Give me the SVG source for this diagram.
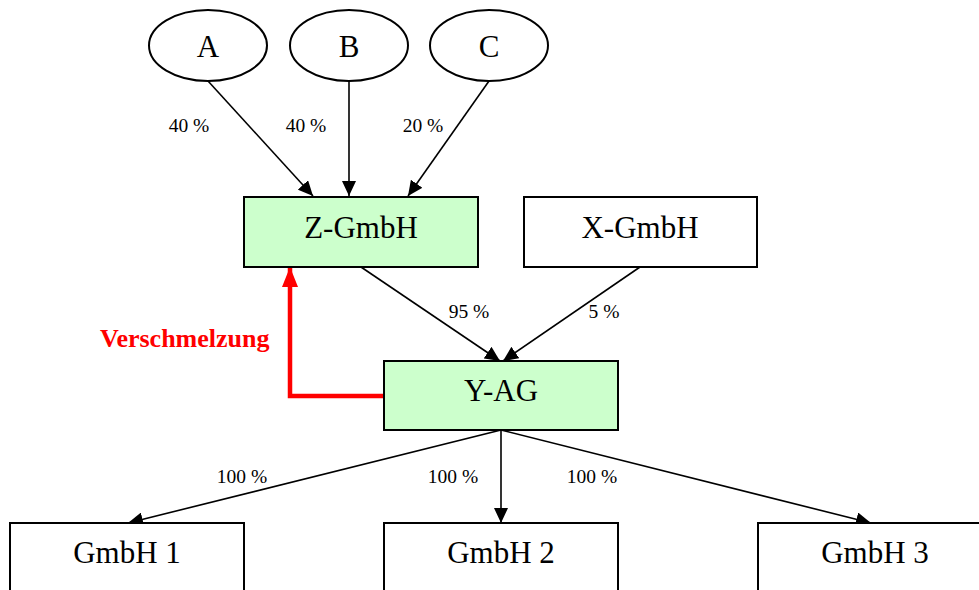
<svg xmlns="http://www.w3.org/2000/svg" width="979" height="590" viewBox="0 0 979 590">
  <defs>
    <marker id="arr" markerUnits="userSpaceOnUse" markerWidth="16" markerHeight="14" refX="15" refY="7" orient="auto">
      <path d="M0,0 L15,7 L0,14 Z" fill="#000"/>
    </marker>
    <marker id="arrRed" markerUnits="userSpaceOnUse" markerWidth="22" markerHeight="16" refX="20" refY="8" orient="auto">
      <path d="M0,0 L20,8 L0,16 Z" fill="#ff0000"/>
    </marker>
    <style>
      .node { fill: #ffffff; stroke: #000; stroke-width: 2; }
      .hl { fill: #ccffcc; }
      .name { font-family: "Liberation Serif", "Times New Roman", serif; font-size: 31px; text-anchor: middle; fill: #000; }
      .pct { font-family: "Liberation Serif", "Times New Roman", serif; font-size: 19.5px; text-anchor: middle; fill: #000; }
      .edge { stroke: #000; stroke-width: 1.6; fill: none; marker-end: url(#arr); }
      .merge { stroke: #ff0000; stroke-width: 4.5; fill: none; marker-end: url(#arrRed); }
      .mergeLabel { font-family: "Liberation Serif", "Times New Roman", serif; font-size: 26px; font-weight: bold; fill: #ff0000; }
    </style>
  </defs>
  <rect width="979" height="590" fill="#ffffff"/>

  <g id="connectors">
    <line class="edge" x1="208" y1="81" x2="313" y2="196"/>
    <line class="edge" x1="349" y1="81" x2="349" y2="196"/>
    <line class="edge" x1="489" y1="81" x2="408" y2="196"/>
    <line class="edge" x1="361" y1="267" x2="500" y2="361"/>
    <line class="edge" x1="640" y1="267" x2="503" y2="361"/>
    <line class="edge" x1="501" y1="430" x2="128" y2="523"/>
    <line class="edge" x1="501" y1="430" x2="501" y2="523"/>
    <line class="edge" x1="501" y1="430" x2="871" y2="523"/>
    <polyline class="merge" points="384,396 290,396 290,267"/>
    <text class="pct" x="189" y="132">40 %</text>
    <text class="pct" x="306" y="132">40 %</text>
    <text class="pct" x="423" y="132">20 %</text>
    <text class="pct" x="469" y="318">95 %</text>
    <text class="pct" x="604" y="318">5 %</text>
    <text class="pct" x="242" y="483">100 %</text>
    <text class="pct" x="453" y="483">100 %</text>
    <text class="pct" x="592" y="483">100 %</text>
    <text class="mergeLabel" x="100" y="347">Verschmelzung</text>
  </g>

  <g id="A">
    <ellipse class="node" cx="208" cy="45.5" rx="59" ry="35.5"/>
    <text class="name" x="208" y="57">A</text>
  </g>
  <g id="B">
    <ellipse class="node" cx="349" cy="45.5" rx="59" ry="35.5"/>
    <text class="name" x="349" y="57">B</text>
  </g>
  <g id="C">
    <ellipse class="node" cx="489" cy="45.5" rx="59" ry="35.5"/>
    <text class="name" x="489" y="57">C</text>
  </g>
  <g id="Z-GmbH">
    <rect class="node hl" x="244" y="197" width="234" height="70"/>
    <text class="name" x="361" y="238">Z-GmbH</text>
  </g>
  <g id="X-GmbH">
    <rect class="node" x="524" y="197" width="233" height="70"/>
    <text class="name" x="640" y="238">X-GmbH</text>
  </g>
  <g id="Y-AG">
    <rect class="node hl" x="384" y="361" width="234" height="69"/>
    <text class="name" x="501" y="401">Y-AG</text>
  </g>
  <g id="GmbH1">
    <rect class="node" x="10" y="523" width="234" height="80"/>
    <text class="name" x="127" y="563">GmbH 1</text>
  </g>
  <g id="GmbH2">
    <rect class="node" x="384" y="523" width="234" height="80"/>
    <text class="name" x="501" y="563">GmbH 2</text>
  </g>
  <g id="GmbH3">
    <rect class="node" x="758" y="523" width="234" height="80"/>
    <text class="name" x="875" y="563">GmbH 3</text>
  </g>
</svg>
